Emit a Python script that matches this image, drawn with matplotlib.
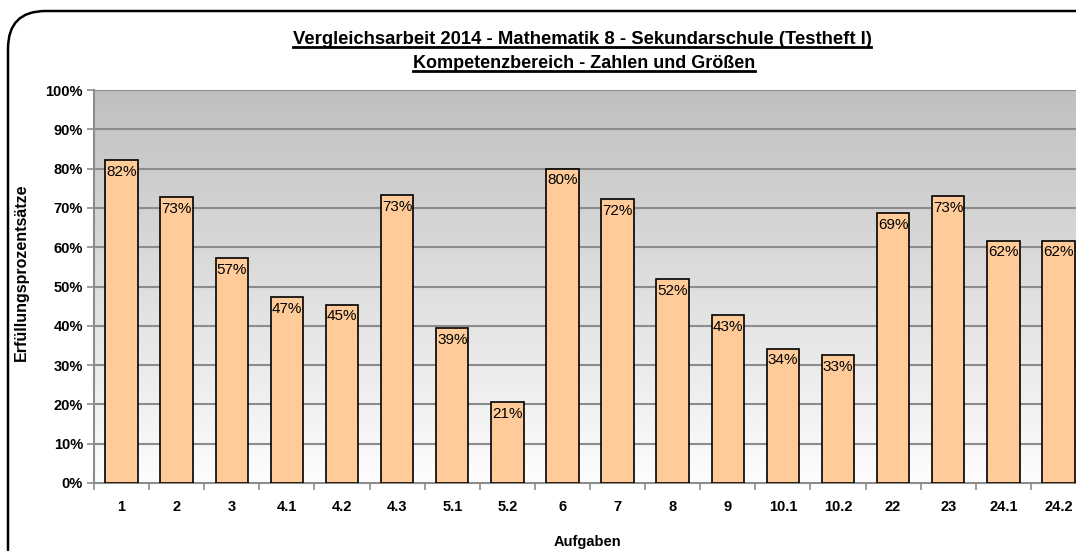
import matplotlib
matplotlib.use("Agg")
import matplotlib.pyplot as plt
import numpy as np
from matplotlib.patches import FancyBboxPatch
from matplotlib.lines import Line2D
from matplotlib.colors import LinearSegmentedColormap

categories = ["1", "2", "3", "4.1", "4.2", "4.3", "5.1", "5.2", "6", "7", "8", "9",
              "10.1", "10.2", "22", "23", "24.1", "24.2"]
values = [82.2, 72.7, 57.2, 47.3, 45.4, 73.2, 39.5, 20.7, 80.0, 72.3, 51.8, 42.8,
          34.2, 32.5, 68.7, 73.0, 61.7, 61.7]
labels = ["82%", "73%", "57%", "47%", "45%", "73%", "39%", "21%", "80%", "72%", "52%", "43%",
          "34%", "33%", "69%", "73%", "62%", "62%"]
yticks = [0, 10, 20, 30, 40, 50, 60, 70, 80, 90, 100]
title1 = "Vergleichsarbeit 2014 - Mathematik 8 - Sekundarschule (Testheft I)"
title2 = "Kompetenzbereich - Zahlen und Größen"

plt.rcParams['font.family'] = ['Liberation Sans', 'DejaVu Sans']

W, H = 1076, 551
fig = plt.figure(figsize=(W / 100, H / 100), dpi=100)

# outer rounded frame (extends beyond right/bottom edges as in the reference)
frame = FancyBboxPatch((8 / W, -0.5), 1.5, 1.5 - 11 / H, boxstyle="round,pad=0,rounding_size=0.035",
                       transform=fig.transFigure, fill=False, edgecolor='black', linewidth=1.8,
                       mutation_aspect=W / H)
fig.patches.append(frame)

# axes: left 94px, right ~1086px, top 90px, bottom 483px
ax_left = 94 / W
ax_w = (1086 - 94) / W
ax_bottom = 1 - 483 / H
ax_h = (483 - 90) / H
ax = fig.add_axes([ax_left, ax_bottom, ax_w, ax_h])

n = len(categories)
x = np.arange(n)
ax.set_xlim(-0.5, n - 0.5)
ax.set_ylim(0, 100)

# gradient background
cmap = LinearSegmentedColormap.from_list("bg", ["#fdfdfd", "#c0c0c0"])
grad = np.linspace(0, 1, 256).reshape(-1, 1)
ax.imshow(grad, cmap=cmap, aspect='auto', extent=(-0.5, n - 0.5, 0, 100),
          origin='lower', zorder=0)

for yv in yticks[1:]:
    ax.axhline(yv, color='#8c8c8c', linewidth=1.5, zorder=1)

bars = ax.bar(x, values, width=0.59, color='#FFCC99', edgecolor='black', linewidth=1.2, zorder=3)
for xi, v, lab in zip(x, values, labels):
    ax.annotate(lab, (xi, v), xytext=(0, -3.5), textcoords='offset points',
                ha='center', va='top', fontsize=11, color='black', zorder=4)

ax.set_yticks(yticks)
ax.set_yticklabels([f"{t}%" for t in yticks], fontsize=10.5, fontweight='bold')
ax.set_xticks(x)
ax.set_xticklabels(categories, fontsize=10.5, fontweight='bold')
ax.tick_params(axis='x', length=0, pad=12)
ax.tick_params(axis='y', length=5, color='#8c8c8c', width=1.2, pad=3)
# x tick marks at category boundaries
ax.set_xticks(np.arange(n + 1) - 0.5, minor=True)
ax.tick_params(axis='x', which='minor', length=5, color='#8c8c8c', width=1.2)

for s in ['top', 'right']:
    ax.spines[s].set_visible(False)
for s in ['left', 'bottom']:
    ax.spines[s].set_color('#8c8c8c')
    ax.spines[s].set_linewidth(1.5)

fig.text(21 / W, 1 - 272 / H, "Erfüllungsprozentsätze", rotation=90, ha='center', va='center',
         fontsize=11.5, fontweight='bold')
fig.text(587 / W, 1 - 542 / H, "Aufgaben", ha='center', va='center', fontsize=10.5, fontweight='bold')

t1 = fig.text(582 / W, 1 - 40 / H, title1, ha='center', va='center', fontsize=13.3, fontweight='bold')
t2 = fig.text(584 / W, 1 - 64 / H, title2, ha='center', va='center', fontsize=13, fontweight='bold')

fig.canvas.draw()
r = fig.canvas.get_renderer()
for t in (t1, t2):
    bb = t.get_window_extent(renderer=r)
    yline = bb.y0 + 1.5
    fig.add_artist(Line2D([bb.x0 / W, bb.x1 / W], [yline / H, yline / H],
                          transform=fig.transFigure, color='black', linewidth=2.0))

fig.savefig("out.png", dpi=100)
